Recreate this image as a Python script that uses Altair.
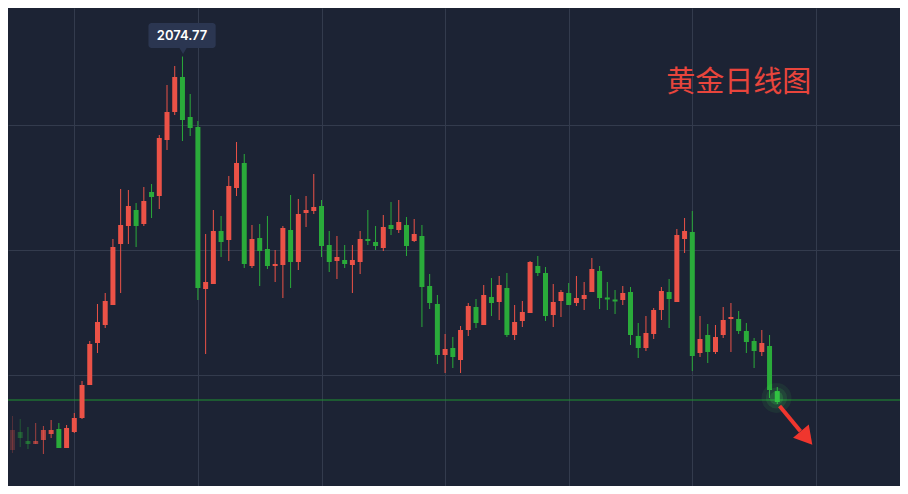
import altair as alt
import pandas as pd

# ---- data ----
idx = list(range(-8, 92))

opens = [
    1760, 1774.4, 1767.2, 1764.8, 1768, 1772.8, 1776.8, 1761.6, 1774.4, 1785.6,
    1812, 1845.6, 1860, 1876, 1924.8, 1939.2, 1952, 1940.8, 1966.4, 1963.2,
    2008, 2030.4, 2058.4, 2026.4, 2018.4, 1888.8, 1892.8, 1935.2, 1928, 1969.6,
    1989.6, 1907.2, 1929.6, 1920.8, 1907.2, 1908, 1936, 1910.4, 1949.6, 1951.2,
    1955.2, 1924, 1911.2, 1912, 1908, 1910.4, 1928.8, 1926.4, 1921.6, 1940,
    1936, 1940, 1927.2, 1931.2, 1891.2, 1876.8, 1836, 1841.6, 1832, 1856,
    1874.4, 1860, 1882.4, 1878.4, 1889.6, 1852, 1863.2, 1869.6, 1907.2, 1901.6,
    1868, 1879.2, 1885.6, 1877.6, 1880.8, 1886.4, 1903.2, 1882, 1880.4, 1880,
    1886.4, 1851.2, 1841.6, 1852.8, 1872, 1886.4, 1878.4, 1928.8, 1934.4, 1837.6,
    1852, 1838.4, 1852, 1864.8, 1864.8, 1855.2, 1847.2, 1838.4, 1843.2, 1807.2,
]
closes = [
    1776, 1769.6, 1764.8, 1767.2, 1776, 1776, 1761.6, 1777.6, 1785.6, 1812,
    1844.8, 1862.4, 1879.2, 1922.4, 1940, 1955.2, 1939.2, 1959.2, 1962.4, 2009.6,
    2030.4, 2058.4, 2024, 2017.6, 1889.6, 1894.4, 1935.2, 1926.4, 1971.2, 1989.6,
    1908.8, 1928.8, 1919.2, 1907.2, 1908.8, 1937.6, 1910.4, 1948.8, 1952, 1954.4,
    1923.2, 1910.4, 1914.4, 1908.8, 1912, 1928.8, 1927.2, 1923.2, 1938.4, 1936.8,
    1942.4, 1923.2, 1932.8, 1890.4, 1877.6, 1836, 1840.8, 1834.4, 1856, 1875.2,
    1861.6, 1884, 1877.6, 1892, 1852, 1862.4, 1870.4, 1910.4, 1901.6, 1867.2,
    1878.4, 1886.4, 1876, 1881.6, 1884, 1904.8, 1881.6, 1880.4, 1878.8, 1885.6,
    1852, 1841.6, 1853.6, 1872, 1887.2, 1880.8, 1932, 1935.2, 1835.2, 1848.8,
    1838.4, 1850.4, 1864, 1866.4, 1855.2, 1846.4, 1839.2, 1845.6, 1808, 1798.4,
]
highs = [
    1787.2, 1784.8, 1778.4, 1781.6, 1779.2, 1784, 1781.6, 1780, 1789.6, 1815.2,
    1847.2, 1876.8, 1885.6, 1928.8, 1968.8, 1968, 1957.6, 1970.4, 1972.8, 2012,
    2052, 2067.2, 2074.77, 2044.8, 2023.2, 1932.8, 1952, 1947.2, 1979.2, 2006.4,
    1996.8, 1940, 1940.8, 1947.2, 1920, 1939.2, 1964, 1960.8, 1963.2, 1980.8,
    1960, 1935.2, 1931.2, 1924, 1924, 1935.2, 1952, 1939.2, 1948, 1958.4,
    1960, 1946.4, 1944.8, 1940, 1900.8, 1884, 1852.8, 1850.4, 1859.2, 1877.6,
    1880.8, 1892, 1897.6, 1899.2, 1901.6, 1876, 1879.2, 1911.2, 1915.2, 1906.4,
    1892.8, 1888, 1893.6, 1899.2, 1894.4, 1913.6, 1907.2, 1894.4, 1888, 1891.2,
    1890.4, 1861.6, 1867.2, 1873.6, 1890.4, 1896.8, 1936.8, 1945.6, 1951.2, 1867.2,
    1860.8, 1860, 1874.4, 1877.6, 1871.2, 1861.6, 1849.6, 1856, 1852, 1810.4,
]
lows = [
    1757.6, 1762.4, 1760.8, 1764.8, 1756.8, 1769.6, 1761.6, 1761.6, 1773.6, 1784.8,
    1812, 1837.6, 1857.6, 1876, 1885.6, 1924.8, 1922.4, 1939.2, 1945.6, 1952.8,
    2000, 2028, 2007.2, 2011.2, 1880, 1836.8, 1892.8, 1914.4, 1911.2, 1963.2,
    1905.6, 1905.6, 1891.2, 1904.8, 1894.4, 1881.6, 1889.6, 1904, 1938.4, 1948.8,
    1914.4, 1902.4, 1896.8, 1905.6, 1885.6, 1900.8, 1924, 1920, 1919.2, 1932,
    1933.6, 1915.2, 1926.4, 1858.4, 1872.8, 1828.8, 1821.6, 1825.6, 1821.6, 1851.2,
    1857.6, 1860, 1867.2, 1864, 1850.4, 1848, 1858.4, 1869.6, 1899.2, 1863.2,
    1858.4, 1866.4, 1876, 1875.2, 1872, 1886.4, 1872.8, 1872, 1868.8, 1876,
    1844, 1833.6, 1839.2, 1848.8, 1864, 1857.6, 1878.4, 1917.6, 1823.2, 1834.4,
    1829.6, 1836.8, 1849.6, 1838.4, 1852.8, 1837.6, 1825.6, 1835.2, 1801.6, 1796.8,
]
fade_left = {-8: 0.25, -7: 0.38, -6: 0.5, -5: 0.62, -4: 0.75, -3: 0.9}

peak_label = "2074.77"
title_text = "黄金日线图"
support_level = 1800

BG = "#1c2334"
RED = "#eb5247"
GREEN = "#2aab3a"
GRID = "#333b4d"

df = pd.DataFrame(dict(i=idx, o=opens, h=highs, l=lows, c=closes))
df["dir"] = ["up" if c >= o else "down" for o, c in zip(opens, closes)]
df["fade"] = [fade_left.get(i, 1.0) for i in idx]

xs = alt.Scale(domain=[-7.936, 106.24], nice=False, zero=False)
ys = alt.Scale(domain=[1731.2, 2113.6], nice=False, zero=False)
xaxis = alt.Axis(values=[0, 16, 32, 48, 64, 80, 96], grid=True, labels=False,
                 ticks=False, domain=False, title=None, gridColor=GRID, gridWidth=1)
yaxis = alt.Axis(values=[1820, 1920, 2020], grid=True, labels=False,
                 ticks=False, domain=False, title=None, gridColor=GRID, gridWidth=1)


def X(f):
    return alt.X(f, type="quantitative", scale=xs, axis=xaxis)


def Y(f):
    return alt.Y(f, type="quantitative", scale=ys, axis=yaxis)


color = alt.Color("dir:N", scale=alt.Scale(domain=["up", "down"], range=[RED, GREEN]), legend=None)
op = alt.Opacity("fade:Q", scale=None)

base = alt.Chart(df)
wicks = base.mark_rule(strokeWidth=1, clip=True).encode(
    x=X("i"), y=Y("l"), y2="h", color=color, opacity=op)
bodies = base.mark_bar(size=5, clip=True).encode(
    x=X("i"), y=Y("o"), y2="c", color=color, opacity=op)

support = alt.Chart(pd.DataFrame({"p": [support_level]})).mark_rule(
    color="#1f9430", strokeWidth=1).encode(y=Y("p"))

# glow around last candle
glow_df = pd.DataFrame({"i": [90.9] * 3, "p": [1801.6] * 3,
                        "s": [900, 450, 180], "a": [0.07, 0.1, 0.16]})
glow = alt.Chart(glow_df).mark_circle(color="#46ff55").encode(
    x=X("i"), y=Y("p"), size=alt.Size("s:Q", scale=None), opacity=alt.Opacity("a:Q", scale=None))

# tooltip box for peak
box_df = pd.DataFrame({"x1": [9.6], "x2": [18.3], "y1": [2101.6], "y2": [2081.6]})
box = alt.Chart(box_df).mark_rect(color="#2b3651", cornerRadius=3).encode(
    x=X("x1"), x2="x2", y=Y("y1"), y2="y2")
ptr = alt.Chart(pd.DataFrame({"i": [14.08], "p": [2079.6]})).mark_point(
    shape="triangle-down", filled=True, size=70, color="#2b3651", opacity=1).encode(
    x=X("i"), y=Y("p"))
peak_txt = alt.Chart(pd.DataFrame({"i": [13.95], "p": [2091.4], "t": [peak_label]})).mark_text(
    color="#ffffff", fontSize=13, fontWeight=600, font="Inter", align="center", baseline="middle").encode(
    x=X("i"), y=Y("p"), text="t:N")

title = alt.Chart(pd.DataFrame({"i": [86.0], "p": [2053.6], "t": [title_text]})).mark_text(
    color="#e8453c", fontSize=29, font="Noto Sans CJK SC", align="center", baseline="middle").encode(
    x=X("i"), y=Y("p"), text="t:N")

# red arrow
shaft_df = pd.DataFrame({"i": [91.3, 94.0], "p": [1795.2, 1775.0]})
shaft = alt.Chart(shaft_df).mark_line(color="#f0362e", strokeWidth=4).encode(
    x=X("i"), y=Y("p"))
head = alt.Chart(pd.DataFrame({"i": [94.8], "p": [1769.7]})).mark_point(
    shape="triangle-up", filled=True, size=420, angle=140, color="#f0362e", opacity=1).encode(
    x=X("i"), y=Y("p"))

chart = alt.layer(
    support, wicks, bodies, glow, box, ptr, peak_txt, title, shaft, head
).properties(
    width=892, height=478, padding=0, autosize="none", background=BG
).configure_view(stroke=None)

chart.save("out.html", embed_options={"renderer": "svg", "actions": False})
